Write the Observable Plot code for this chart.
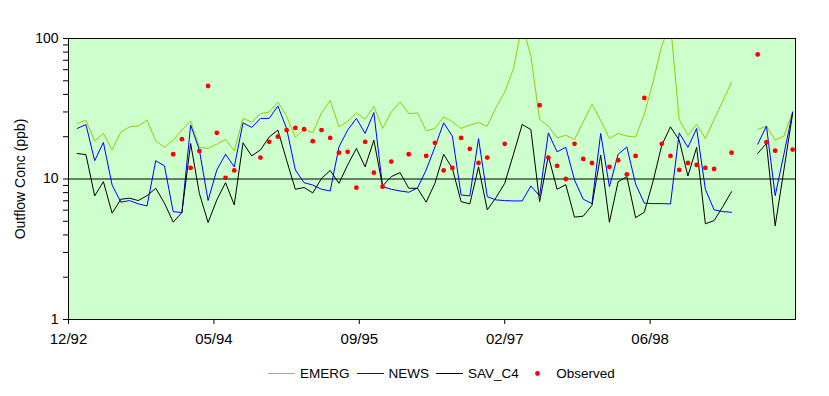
<!DOCTYPE html>
<html>
<head>
<meta charset="utf-8">
<script src="https://cdn.jsdelivr.net/npm/d3@7"></script>
<script src="https://cdn.jsdelivr.net/npm/@observablehq/plot@0.6"></script>
<style>
  body { margin: 0; background: #fff; font-family: "Liberation Sans", Arial, sans-serif; }
  #chart { position: relative; width: 829px; height: 396px; overflow: hidden; }
  .legend { position: absolute; top: 365px; left: 268px; height: 16px; display: flex; align-items: center; font-size: 13.5px; color: #000; white-space: nowrap; }
  .item { display: flex; align-items: center; margin-right: 7px; }
  .item svg { display: block; margin-right: 5px; }
</style>
</head>
<body>
<div id="chart"></div>
<script>
// ---- data (monthly index from 12/92 = 0) ----
const months = [1,2,3,4,5,6,7,8,9,10,11,12,13,14,15,16,17,18,19,20,21,22,23,24,25,26,27,28,29,30,31,32,33,34,35,36,37,38,39,40,41,42,43,44,45,46,47,48,49,50,51,52,53,54,55,56,57,58,59,60,61,62,63,64,65,66,67,68,69,70,71,72,73,74,75,76,77,78,79,80,81,82,83];

const emerg = [24.8,26.2,18.6,21.1,16.1,21.6,23.5,23.9,26.2,18.7,16.8,18.9,22.3,25.9,16.8,16.5,17.7,19.1,15.9,27.0,25.4,29.2,30.0,35.3,28.0,19.8,22.6,21.3,29.5,36.3,23.5,25.7,29.5,26.6,32.9,22.9,30.0,35.3,29.2,29.5,22.0,22.9,27.7,25.5,22.9,24.2,25.2,23.8,32.2,41.6,61.0,125,75,26.5,23.8,19.6,20.5,19.1,25.5,34.0,26.2,19.4,21.1,20.2,19.9,29,49,89,127,26.5,20.5,24.5,19.4,26.5,35.9,49.0,null,null,22.5,23.8,18.9,20.2,30.0];

const news = [22.9,24.4,13.5,18.2,9.06,6.84,7.02,6.65,6.43,13.5,12.4,5.86,5.77,24.2,16.1,7.02,11.6,15.0,12.2,25.1,23.3,27.0,27.0,33.1,22.9,11.6,9.41,9.06,8.45,8.22,16.9,22.3,27.0,21.1,29.7,8.82,8.45,8.22,8.05,8.63,11.6,16.9,25.1,20.2,7.70,7.58,19.4,7.49,7.10,7.02,6.98,6.98,8.92,7.58,21.3,15.6,16.8,9.84,7.18,6.68,21.1,8.82,15.0,16.9,9.22,6.73,6.68,6.68,6.65,21.3,16.8,22.9,8.45,6.03,5.86,5.80,null,null,17.7,23.8,7.61,15.0,30.0];

const savC4 = [15.2,14.9,7.58,9.57,5.71,7.18,7.30,7.02,7.61,8.59,6.73,4.93,5.77,17.9,7.9,4.90,7.10,9.41,6.54,18.1,14.6,16.1,19.9,22.3,13.6,8.45,8.70,7.96,10.1,11.5,9.32,12.6,16.5,12.2,18.9,8.92,10.4,11.1,8.59,8.59,6.84,9.32,15.0,11.9,6.90,6.65,12.2,6.03,7.37,9.32,15.0,24.4,22.5,6.90,14.6,8.45,9.11,5.35,5.44,6.49,14.8,4.93,9.57,10.4,5.31,5.8,9.6,17.4,23.5,18.9,10.5,16.8,4.80,5.06,6.36,8.13,null,null,15.2,17.9,4.64,11.6,29.2];

const obsMonths = [12,13,14,15,16,17,18,19,22,23,24,25,26,27,28,29,30,31,32,33,34,35,36,37,39,41,42,43,44,45,46,47,48,50,54,55,56,57,58,59,60,62,63,64,65,66,68,69,70,71,72,73,74,76,79,80,81,83];
const obsValues = [15.0,19.2,12.0,15.8,45.9,21.3,10.2,11.5,14.2,18.4,20.0,22.3,23.1,22.6,18.6,22.3,19.6,15.4,15.6,8.68,18.4,11.1,8.82,13.3,15.0,14.6,18.1,11.5,12.0,19.6,16.4,13.0,14.2,17.8,33.5,14.2,12.4,10.0,17.8,13.9,13.0,12.2,13.6,10.8,14.6,37.7,17.8,14.6,11.6,13.0,12.6,12.0,11.8,15.4,77.0,18.3,15.9,16.2];

const xTickPos = [0, 16.667, 33.333, 50, 66.667];
const xTickLabels = ["12/92", "05/94", "09/95", "02/97", "06/98"];
const yMajor = [1, 10, 100];
const yMinor = [2,3,4,5,6,7,8,9,20,30,40,50,60,70,80,90];
const seriesNames = ["EMERG", "NEWS", "SAV_C4", "Observed"];
const seriesColors = ["#99cc00", "#0000ff", "#000000", "#ff0000"];

// ---- build tables ----
const rows = months.map((m, i) => ({month: m, EMERG: emerg[i], NEWS: news[i], SAV_C4: savC4[i]}));
const obs = obsMonths.map((m, i) => ({month: m, value: obsValues[i]}));

const plot = Plot.plot({
  width: 829,
  height: 356,
  marginLeft: 68,
  marginRight: 34,
  marginTop: 38,
  marginBottom: 37,
  x: {type: "linear", domain: [0, 83.33]},
  y: {type: "log", domain: [1, 100]},
  style: {fontFamily: "'Liberation Sans', Arial, sans-serif", fontSize: "14px", color: "#000", background: "#fff", overflow: "visible"},
  marks: [
    Plot.frame({fill: "#ccffcc", stroke: "none"}),
    Plot.ruleY([10], {stroke: "#000", strokeWidth: 1}),
    Plot.line(rows, {x: "month", y: "EMERG", stroke: seriesColors[0], strokeWidth: 1, clip: true}),
    Plot.line(rows, {x: "month", y: "NEWS", stroke: seriesColors[1], strokeWidth: 1, clip: true}),
    Plot.line(rows, {x: "month", y: "SAV_C4", stroke: seriesColors[2], strokeWidth: 1, clip: true}),
    Plot.dot(obs, {x: "month", y: "value", r: 2.4, fill: seriesColors[3], stroke: "none"}),
    Plot.frame({stroke: "#000", strokeWidth: 1}),
    Plot.axisY(yMajor, {tickSize: 5, tickPadding: 5, fontSize: 14, tickFormat: d => String(d), label: "Outflow Conc (ppb)", labelAnchor: "center", labelArrow: "none", labelOffset: 53}),
    Plot.axisY(yMinor, {tickSize: 5, tickFormat: () => "", label: null}),
    Plot.axisX(xTickPos, {tickSize: 5, tickPadding: 9, fontSize: 15, tickFormat: d => xTickLabels[xTickPos.indexOf(d)], label: null})
  ]
});

const chart = document.getElementById("chart");
chart.appendChild(plot);

// ---- legend ----
const ns = "http://www.w3.org/2000/svg";
const legend = document.createElement("div");
legend.className = "legend";
seriesNames.forEach((name, i) => {
  const item = document.createElement("div");
  item.className = "item";
  const sw = document.createElementNS(ns, "svg");
  if (name === "Observed") {
    sw.setAttribute("width", "10");
    sw.setAttribute("height", "9");
    sw.style.marginLeft = "7px";
    sw.style.marginRight = "13.5px";
    const c = document.createElementNS(ns, "circle");
    c.setAttribute("cx", "4.5"); c.setAttribute("cy", "4.5"); c.setAttribute("r", "2.4");
    c.setAttribute("fill", seriesColors[i]);
    sw.appendChild(c);
  } else {
    sw.setAttribute("width", "27");
    sw.setAttribute("height", "9");
    const l = document.createElementNS(ns, "line");
    l.setAttribute("x1", "0"); l.setAttribute("x2", "27");
    l.setAttribute("y1", "4.5"); l.setAttribute("y2", "4.5");
    l.setAttribute("stroke", seriesColors[i]);
    l.setAttribute("stroke-width", "1");
    sw.appendChild(l);
  }
  const label = document.createElement("span");
  label.textContent = name;
  item.appendChild(sw);
  item.appendChild(label);
  legend.appendChild(item);
});
chart.appendChild(legend);
</script>
</body>
</html>
